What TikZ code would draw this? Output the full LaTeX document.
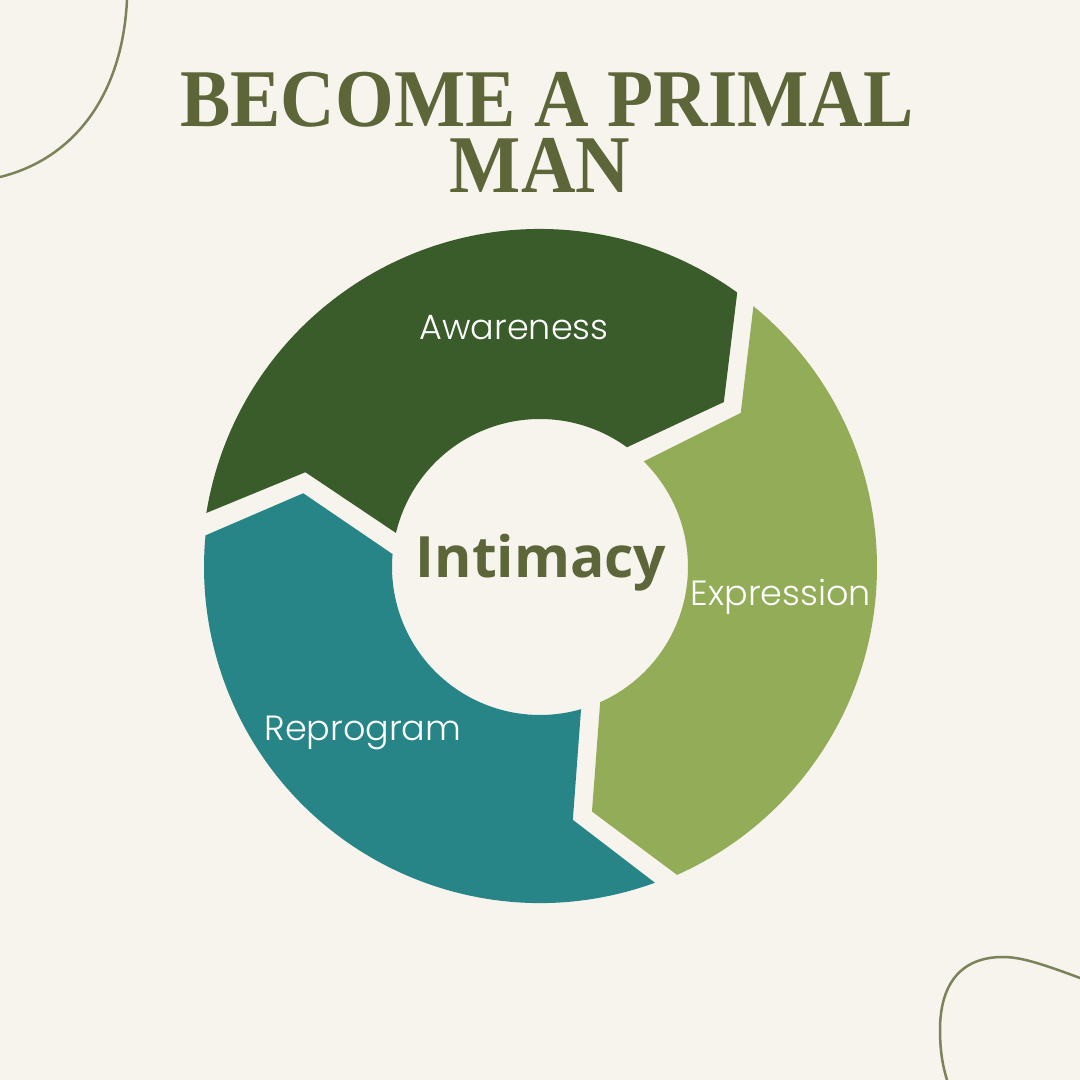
\documentclass[tikz,border=0pt]{standalone}
\usepackage{fontspec}
\setmainfont{Liberation Serif}
\newfontfamily\titlefont[FakeStretch=0.92]{Liberation Serif}
\newfontfamily\labelfont{Poppins Light}
\newfontfamily\corefont{Open Sans}
\definecolor{bgcream}{HTML}{F7F3ED}
\definecolor{olive}{HTML}{5C6639}
\definecolor{darkleaf}{HTML}{3A5B2A}
\definecolor{lightleaf}{HTML}{92AC58}
\definecolor{tealseg}{HTML}{278588}
\definecolor{swirl}{HTML}{7B8359}

\begin{document}
\begin{tikzpicture}[x=1pt,y=1pt,
    titletext/.style={text=olive,anchor=base,inner sep=0pt,text height=54pt,text depth=0pt,font=\titlefont\bfseries\fontsize{82}{90}\selectfont},
    lbl/.style={text=white,anchor=base,inner sep=0pt,font=\labelfont\fontsize{35}{40}\selectfont},
    core/.style={text=olive,anchor=base,inner sep=0pt,font=\corefont\bfseries\fontsize{57}{60}\selectfont},
    swirlline/.style={draw=swirl,line width=2.5pt,line cap=round}
  ]
    \fill[bgcream] (0,0) rectangle (1080,1080);
    \useasboundingbox (0,0) rectangle (1080,1080);
    % corner lines
    \draw[swirlline] (127,1080) .. controls (122,980) and (70,920) .. (0,903);
    \draw[swirlline] (1080,102) .. controls (1040,117) and (1020,123) .. (1003,123)
      .. controls (960,123) and (940,95) .. (940,50) .. controls (940,25) and (944,10) .. (947,0);
    % ring of three arrows
    \begin{scope}[shift={(540,513)}]
      \fill[darkleaf] (170.8:338) arc[start angle=170.8,end angle=54.3,radius=338] -- (41.9:247)
        -- (54:148) arc[start angle=54,end angle=166.7,radius=148] -- (158:253) -- cycle;
      \fill[lightleaf] (50.7:337) arc[start angle=50.7,end angle=-66,radius=337] -- (-78:250)
        -- (-66:148) arc[start angle=-66,end angle=45.5,radius=148] -- (37.5:253) -- cycle;
      \fill[tealseg] (290:336) arc[start angle=290,end angle=174.6,radius=336] -- (162.7:248)
        -- (175:148) arc[start angle=175,end angle=286.1,radius=148] -- (277.4:255) -- cycle;
    \end{scope}
    \node[titletext] (title) at (547,953) {BECOME A PRIMAL};
    \node[titletext] (titleman) at (540,887) {MAN};
    \node[lbl] (awareness) at (514,740) {Awareness};
    \node[lbl] (expression) at (781,474) {Expression};
    \node[lbl] (reprogram) at (363,339) {Reprogram};
    \node[core] (intimacy) at (541,502) {Intimacy};
  \end{tikzpicture}
\end{document}
